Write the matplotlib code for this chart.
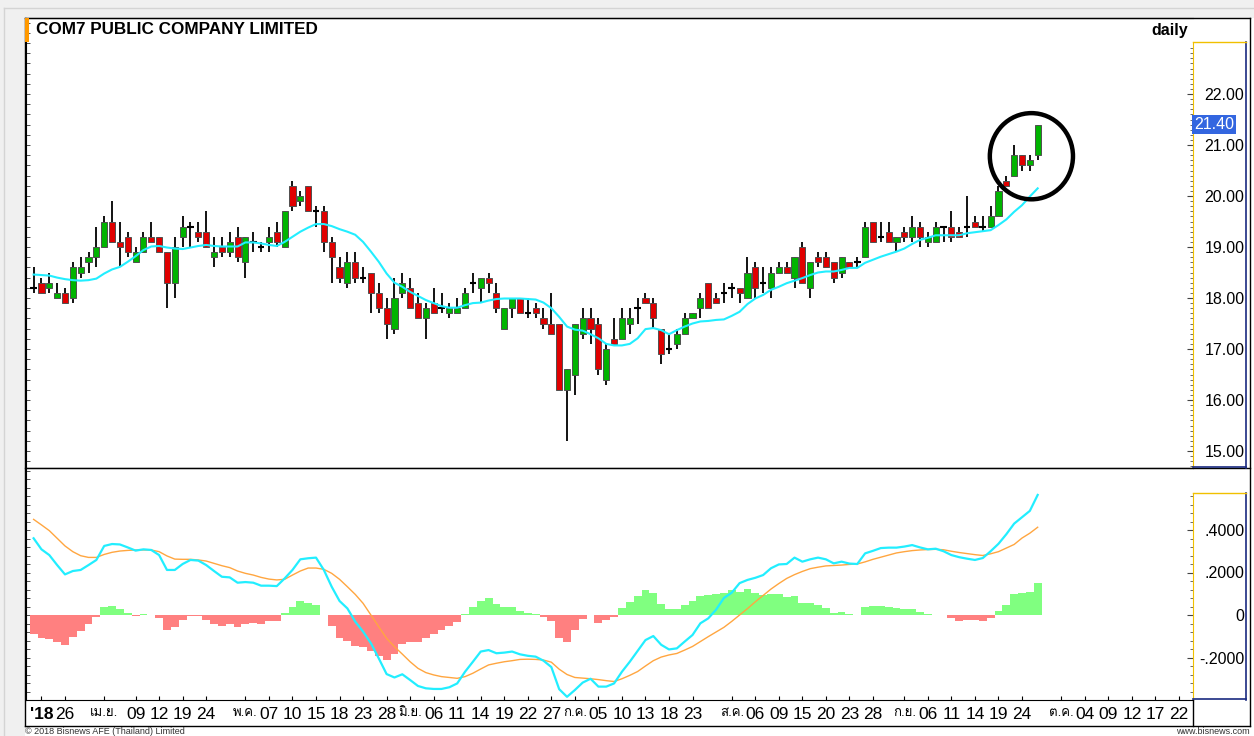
import numpy as np
import matplotlib
matplotlib.use("Agg")
import matplotlib.pyplot as plt
from matplotlib import font_manager, ft2font
from matplotlib.patches import Ellipse, Rectangle
from matplotlib.lines import Line2D
from matplotlib.transforms import blended_transform_factory

# daily OHLC, 20 Mar 2018 .. 26 Sep 2018 (one entry per trading day)
open_ = [18.2, 18.3, 18.2, 18.0, 18.1, 18.0, 18.5, 18.7, 18.8, 19.0,
         19.5, 19.1, 19.2, 18.7, 18.9, 19.2, 19.2, 18.9, 18.3, 19.2,
         19.4, 19.3, 19.3, 18.8, 19.0, 18.9, 19.2, 18.7, 19.1, 19.0,
         19.1, 19.3, 19.0, 20.2, 19.9, 20.2, 19.7, 19.7, 19.1, 18.6,
         18.3, 18.7, 18.4, 18.5, 18.1, 17.8, 17.4, 18.1, 18.2, 17.9,
         17.6, 17.9, 17.8, 17.7, 17.7, 17.8, 18.3, 18.2, 18.4, 18.1,
         17.4, 17.8, 18.0, 17.7, 17.8, 17.6, 17.5, 17.5, 16.2, 16.5,
         17.3, 17.6, 17.5, 16.4, 17.2, 17.2, 17.5, 17.8, 18.0, 17.9,
         17.4, 17.0, 17.1, 17.3, 17.6, 17.8, 18.3, 18.0, 18.1, 18.2,
         18.2, 18.0, 18.6, 18.3, 18.2, 18.5, 18.6, 18.4, 19.0, 18.2,
         18.8, 18.8, 18.7, 18.5, 18.7, 18.7, 18.8, 19.5, 19.2, 19.3,
         19.1, 19.3, 19.2, 19.4, 19.1, 19.1, 19.4, 19.4, 19.3, 19.4,
         19.5, 19.4, 19.4, 19.6, 20.3, 20.4, 20.8, 20.6, 20.8]
high = [18.6, 18.4, 18.5, 18.3, 18.2, 18.7, 18.8, 18.9, 19.4, 19.6,
        19.9, 19.5, 19.3, 19.0, 19.3, 19.5, 19.2, 18.9, 19.2, 19.6,
        19.5, 19.5, 19.7, 19.2, 19.2, 19.3, 19.4, 19.2, 19.3, 19.1,
        19.4, 19.5, 19.7, 20.3, 20.1, 20.2, 19.8, 19.8, 19.2, 18.8,
        18.9, 18.9, 18.6, 18.5, 18.3, 18.0, 18.4, 18.5, 18.4, 18.1,
        17.9, 18.2, 18.1, 17.9, 18.0, 18.2, 18.5, 18.4, 18.5, 18.3,
        17.8, 18.0, 18.0, 18.0, 17.9, 17.8, 18.1, 17.5, 16.6, 17.5,
        17.8, 17.8, 17.6, 17.1, 17.6, 17.8, 17.8, 18.0, 18.1, 18.0,
        17.4, 17.3, 17.4, 17.7, 17.7, 18.1, 18.3, 18.1, 18.3, 18.3,
        18.2, 18.8, 18.7, 18.6, 18.6, 18.7, 18.7, 18.8, 19.1, 18.7,
        18.9, 18.9, 18.7, 18.8, 18.7, 18.8, 19.5, 19.5, 19.5, 19.5,
        19.2, 19.4, 19.6, 19.5, 19.3, 19.5, 19.4, 19.7, 19.4, 20.0,
        19.6, 19.6, 19.8, 20.2, 20.4, 21.0, 20.8, 20.8, 21.4]
low = [18.1, 18.1, 18.1, 18.0, 17.9, 17.9, 18.4, 18.5, 18.6, 19.0,
       19.1, 18.6, 18.8, 18.7, 18.9, 19.1, 18.9, 17.8, 18.0, 19.0,
       19.0, 19.1, 19.0, 18.6, 18.8, 18.8, 18.7, 18.4, 18.9, 18.9,
       18.9, 19.0, 19.0, 19.7, 19.8, 19.7, 19.4, 18.9, 18.3, 18.3,
       18.2, 18.3, 18.3, 17.7, 17.7, 17.2, 17.3, 18.0, 17.8, 17.6,
       17.2, 17.7, 17.7, 17.6, 17.7, 17.8, 18.1, 17.9, 18.1, 17.7,
       17.4, 17.6, 17.7, 17.6, 17.6, 17.4, 17.3, 16.2, 15.2, 16.1,
       17.2, 17.1, 16.5, 16.3, 17.1, 17.2, 17.3, 17.5, 17.9, 17.4,
       16.7, 16.9, 17.0, 17.3, 17.6, 17.6, 17.8, 17.9, 17.9, 18.0,
       17.9, 18.0, 18.0, 18.1, 18.0, 18.5, 18.5, 18.2, 18.3, 18.0,
       18.6, 18.6, 18.3, 18.4, 18.6, 18.6, 18.8, 19.1, 19.1, 19.1,
       18.9, 19.1, 19.1, 19.0, 19.0, 19.1, 19.1, 19.1, 19.2, 19.2,
       19.4, 19.3, 19.4, 19.6, 20.2, 20.4, 20.5, 20.5, 20.7]
close = [18.2, 18.1, 18.3, 18.1, 17.9, 18.6, 18.6, 18.8, 19.0, 19.5,
         19.1, 19.0, 18.9, 18.9, 19.2, 19.1, 18.9, 18.3, 19.0, 19.4,
         19.4, 19.2, 19.0, 18.9, 18.9, 19.1, 18.8, 19.2, 19.1, 19.0,
         19.2, 19.1, 19.7, 19.8, 20.0, 19.7, 19.7, 19.1, 18.8, 18.4,
         18.7, 18.4, 18.4, 18.1, 17.8, 17.5, 18.0, 18.3, 17.8, 17.6,
         17.8, 17.7, 17.8, 17.8, 17.8, 18.1, 18.3, 18.4, 18.3, 17.8,
         17.8, 18.0, 17.7, 17.7, 17.7, 17.5, 17.3, 16.2, 16.6, 17.5,
         17.6, 17.4, 16.6, 17.0, 17.1, 17.6, 17.6, 17.8, 17.9, 17.6,
         16.9, 17.0, 17.3, 17.6, 17.7, 18.0, 17.8, 17.9, 18.1, 18.2,
         18.1, 18.5, 18.2, 18.3, 18.5, 18.6, 18.5, 18.8, 18.3, 18.7,
         18.7, 18.6, 18.4, 18.8, 18.6, 18.7, 19.4, 19.1, 19.2, 19.1,
         19.2, 19.2, 19.4, 19.2, 19.2, 19.4, 19.4, 19.2, 19.2, 19.4,
         19.4, 19.4, 19.6, 20.1, 20.2, 20.8, 20.6, 20.7, 21.4]

# moving average line (cyan)
ma = [18.46, 18.45, 18.44, 18.40, 18.37, 18.35, 18.34, 18.35, 18.38, 18.48,
      18.56, 18.61, 18.71, 18.82, 18.94, 19.01, 19.02, 18.99, 18.97, 18.96,
      18.99, 19.02, 19.04, 19.02, 19.01, 19.01, 19.01, 19.09, 19.09, 19.07,
      19.04, 19.02, 19.10, 19.20, 19.30, 19.38, 19.45, 19.45, 19.41, 19.35,
      19.30, 19.24, 19.10, 18.91, 18.71, 18.48, 18.30, 18.22, 18.12, 18.04,
      17.96, 17.90, 17.84, 17.81, 17.81, 17.86, 17.90, 17.91, 17.95, 17.98,
      17.99, 17.99, 17.99, 17.98, 17.97, 17.91, 17.80, 17.63, 17.44, 17.38,
      17.36, 17.29, 17.21, 17.10, 17.07, 17.07, 17.10, 17.21, 17.39, 17.41,
      17.37, 17.29, 17.37, 17.44, 17.50, 17.54, 17.55, 17.57, 17.58, 17.65,
      17.73, 17.88, 17.99, 18.06, 18.16, 18.22, 18.29, 18.34, 18.39, 18.45,
      18.50, 18.52, 18.52, 18.55, 18.59, 18.59, 18.69, 18.75, 18.81, 18.86,
      18.91, 18.97, 19.06, 19.14, 19.18, 19.23, 19.23, 19.23, 19.23, 19.27,
      19.29, 19.31, 19.33, 19.43, 19.54, 19.69, 19.82, 19.99, 20.15]

# MACD panel
macd = [0.361, 0.309, 0.282, 0.235, 0.191, 0.207, 0.212, 0.235, 0.259, 0.325,
        0.334, 0.332, 0.318, 0.303, 0.309, 0.306, 0.282, 0.212, 0.212, 0.240,
        0.259, 0.256, 0.235, 0.207, 0.180, 0.177, 0.152, 0.155, 0.152, 0.138,
        0.138, 0.136, 0.172, 0.212, 0.262, 0.267, 0.270, 0.212, 0.133, 0.066,
        0.031, -0.031, -0.078, -0.133, -0.204, -0.278, -0.294, -0.279, -0.306, -0.334,
        -0.345, -0.348, -0.348, -0.340, -0.322, -0.267, -0.220, -0.172, -0.165, -0.180,
        -0.177, -0.172, -0.185, -0.192, -0.196, -0.215, -0.245, -0.349, -0.385, -0.353,
        -0.318, -0.300, -0.337, -0.337, -0.322, -0.267, -0.220, -0.169, -0.118, -0.099,
        -0.140, -0.162, -0.157, -0.125, -0.094, -0.039, -0.016, 0.025, 0.080, 0.105,
        0.150, 0.165, 0.175, 0.188, 0.220, 0.238, 0.240, 0.270, 0.251, 0.262,
        0.270, 0.262, 0.243, 0.251, 0.242, 0.240, 0.290, 0.302, 0.315, 0.317,
        0.317, 0.322, 0.329, 0.318, 0.309, 0.312, 0.300, 0.282, 0.272, 0.265,
        0.259, 0.268, 0.300, 0.335, 0.380, 0.430, 0.460, 0.490, 0.565]
signal = [0.450, 0.424, 0.397, 0.361, 0.325, 0.298, 0.279, 0.271, 0.271, 0.285,
          0.295, 0.301, 0.304, 0.306, 0.306, 0.306, 0.298, 0.278, 0.263, 0.262,
          0.262, 0.259, 0.254, 0.243, 0.232, 0.223, 0.207, 0.196, 0.188, 0.177,
          0.169, 0.165, 0.168, 0.188, 0.207, 0.221, 0.221, 0.215, 0.196, 0.168,
          0.133, 0.097, 0.055, 0.000, -0.055, -0.110, -0.149, -0.184, -0.220, -0.251,
          -0.271, -0.282, -0.290, -0.294, -0.298, -0.290, -0.274, -0.254, -0.235, -0.227,
          -0.220, -0.215, -0.209, -0.208, -0.209, -0.212, -0.222, -0.255, -0.280, -0.294,
          -0.297, -0.300, -0.304, -0.309, -0.313, -0.300, -0.284, -0.266, -0.240, -0.215,
          -0.198, -0.188, -0.181, -0.165, -0.148, -0.125, -0.102, -0.080, -0.058, -0.030,
          0.000, 0.030, 0.062, 0.092, 0.122, 0.148, 0.172, 0.190, 0.205, 0.218,
          0.225, 0.231, 0.233, 0.235, 0.238, 0.240, 0.250, 0.262, 0.272, 0.282,
          0.292, 0.298, 0.303, 0.306, 0.308, 0.309, 0.307, 0.300, 0.294, 0.289,
          0.284, 0.280, 0.288, 0.298, 0.315, 0.332, 0.362, 0.385, 0.413]
hist = [-0.089, -0.110, -0.114, -0.125, -0.141, -0.102, -0.074, -0.044, -0.011, 0.036,
        0.042, 0.030, 0.008, -0.003, 0.005, 0.000, -0.016, -0.071, -0.058, -0.024,
        -0.003, -0.003, -0.024, -0.042, -0.052, -0.044, -0.058, -0.044, -0.036, -0.042,
        -0.028, -0.028, 0.011, 0.036, 0.066, 0.058, 0.047, 0.000, -0.050, -0.110,
        -0.122, -0.146, -0.152, -0.169, -0.191, -0.212, -0.184, -0.136, -0.129, -0.129,
        -0.107, -0.091, -0.071, -0.052, -0.031, 0.005, 0.039, 0.068, 0.082, 0.052,
        0.036, 0.036, 0.020, 0.008, 0.003, -0.008, -0.028, -0.110, -0.125, -0.071,
        -0.020, 0.000, -0.036, -0.024, -0.011, 0.031, 0.060, 0.089, 0.118, 0.105,
        0.050, 0.027, 0.027, 0.047, 0.066, 0.091, 0.094, 0.097, 0.105, 0.118,
        0.110, 0.122, 0.105, 0.094, 0.097, 0.097, 0.083, 0.089, 0.055, 0.055,
        0.047, 0.031, 0.008, 0.013, 0.003, 0.000, 0.039, 0.042, 0.042, 0.036,
        0.031, 0.027, 0.028, 0.013, 0.003, 0.002, 0.002, -0.016, -0.027, -0.024,
        -0.024, -0.027, -0.016, 0.020, 0.047, 0.097, 0.105, 0.110, 0.149]

# date axis: trading-day slot of each label
tick_pos = [1, 4, 9, 13, 16, 19, 22, 27, 30, 33, 36, 39, 42, 45, 48, 51, 54, 57,
            60, 63, 66, 69, 72, 75, 78, 81, 84, 89, 92, 95, 98, 101, 104, 107,
            111, 114, 117, 120, 123, 126, 131, 134, 137, 140, 143, 146]
tick_labels = ["'18", "26", "เม.ย.", "09", "12", "19", "24",
               "พ.ค.", "07", "10", "15", "18", "23", "28",
               "มิ.ย.", "06", "11", "14", "19", "22", "27",
               "ก.ค.", "05", "10", "13", "18", "23",
               "ส.ค.", "06", "09", "15", "20", "23", "28",
               "ก.ย.", "06", "11", "14", "19", "24",
               "ต.ค.", "04", "09", "12", "17", "22"]
price_ticks = [15, 16, 17, 18, 19, 20, 21, 22]
macd_ticks = [-0.2, 0.0, 0.2, 0.4]
macd_tick_labels = ["-.2000", "0", ".2000", ".4000"]
last_price = 21.40

# find a font that has Thai glyphs
thai_font = None
for f in font_manager.fontManager.ttflist:
    try:
        if 0x0E40 in ft2font.FT2Font(f.fname).get_charmap():
            thai_font = f.name
            break
    except Exception:
        pass
fams = ["Liberation Sans"] + ([thai_font] if thai_font else []) + ["DejaVu Sans"]
plt.rcParams["font.family"] = fams

W, H = 1254, 736
fig = plt.figure(figsize=(W / 100, H / 100), dpi=100, facecolor="#f0f0f0")


def px_line(x0, y0, x1, y1, color="black", lw=1.0):
    fig.add_artist(Line2D([x0 / W, x1 / W], [1 - y0 / H, 1 - y1 / H],
                          transform=fig.transFigure, color=color, lw=lw, zorder=20))


fig.add_artist(Rectangle((25 / W, 0), 1, 1 - 18 / H, transform=fig.transFigure,
                         facecolor="white", edgecolor="none", zorder=-10))
px_line(4, 8, 1254, 8, color="#d4d4d4")
px_line(4, 8, 4, 736, color="#d4d4d4")

ax1 = fig.add_axes([26 / W, 1 - 468 / H, (1193 - 26) / W, (468 - 18) / H])
ax2 = fig.add_axes([26 / W, 1 - 700 / H, (1193 - 26) / W, (700 - 468) / H])

idx = np.arange(len(close))
o = np.array(open_)
c = np.array(close)
xmin, xmax = -0.97, 147.8

# candles
ax1.vlines(idx, low, high, color="black", lw=1.3, zorder=2)
up = c > o
dn = c < o
doji = ~(up | dn)
body_col = np.where(up, "#00b400", "#e00000")
mask = up | dn
ax1.bar(idx[mask], np.abs(c - o)[mask], bottom=np.minimum(o, c)[mask], width=0.78,
        color=body_col[mask], edgecolor="#505050", lw=0.7, zorder=3)
ax1.hlines(o[doji], idx[doji] - 0.42, idx[doji] + 0.42, color="black", lw=1.5, zorder=3)
ax1.plot(idx, ma, color="#22eeff", lw=1.5, zorder=4)

# highlight circle round the last candles
ax1.add_patch(Ellipse((127.2, 20.78), 10.6, 1.69, fill=False, edgecolor="black", lw=3.2, zorder=6))

ax1.set_xlim(xmin, xmax)
ax1.set_ylim(22 - 374 / 51, 22 + 76 / 51)
ax1.set_xticks([])
ax1.yaxis.tick_right()
ax1.set_yticks(price_ticks)
ax1.set_yticklabels(["%.2f" % v for v in price_ticks])
ax1.set_yticks(np.arange(14.7, 23.0, 0.1), minor=True)
ax1.tick_params(axis="y", which="major", direction="in", length=4, width=0.8,
                color="#444444", labelsize=11.5, pad=37)
ax1.tick_params(axis="y", which="minor", direction="in", length=2, width=0.6, color="#555555")
for lab in ax1.get_yticklabels():
    lab.set_ha("right")
ax1.spines["right"].set_color("#f0c000")
ax1.spines["right"].set_bounds(22 - 374 / 51, 22 + 52 / 51)
ax1.spines["left"].set_visible(False)

tr = blended_transform_factory(ax1.transAxes, ax1.transData)
ax1.text(1.001, last_price, "%.2f" % last_price, transform=tr, color="white",
         fontsize=11.5, va="center", ha="left", zorder=10,
         bbox=dict(boxstyle="square,pad=0.12", facecolor="#3366e0", edgecolor="none"))

# MACD
hcol = ["#80ff80" if v >= 0 else "#ff8080" for v in hist]
ax2.bar(idx, hist, width=1.0, color=hcol, edgecolor="none", zorder=2)
ax2.plot(idx, signal, color="#ffa640", lw=1.0, zorder=3)
ax2.plot(idx, macd, color="#22eeff", lw=1.6, zorder=4)
ax2.set_xlim(xmin, xmax)
ax2.set_ylim(-0.40, 147 / 212.5)
ax2.yaxis.tick_right()
ax2.set_yticks(macd_ticks)
ax2.set_yticklabels(macd_tick_labels)
ax2.set_yticks(np.arange(-0.4, 0.58, 0.04), minor=True)
ax2.tick_params(axis="y", which="major", direction="in", length=4, width=0.8, color="#444444",
                labelsize=11.5, pad=37)
ax2.tick_params(axis="y", which="minor", direction="in", length=2, width=0.6, color="#555555")
for lab in ax2.get_yticklabels():
    lab.set_ha("right")
ax2.spines["right"].set_color("#f0c000")
ax2.spines["right"].set_bounds(-0.40, 122 / 212.5)
ax2.spines["left"].set_visible(False)

ax2.set_xticks(tick_pos)
ax2.set_xticklabels(tick_labels)
ax2.tick_params(axis="x", direction="in", length=3, pad=5, labelsize=12.5)
for lab in ax2.get_xticklabels():
    if lab.get_text().startswith("'"):
        lab.set_fontweight("bold")
    elif not lab.get_text().isdigit():
        lab.set_fontsize(9.5)

# left edge ticks
for ax in (ax1, ax2):
    sec = ax.secondary_yaxis("left")
    sec.set_yticks(np.arange(-1, 24, 0.2) if ax is ax1 else np.arange(-0.4, 0.7, 0.04))
    sec.set_yticklabels([])
    sec.tick_params(direction="in", length=3, width=0.6, color="#333333")

# frame lines
px_line(25, 18, 1250, 18)
px_line(25, 18, 25, 726)
px_line(1250, 18, 1250, 726)
px_line(25, 468, 1250, 468)
px_line(25, 726, 1250, 726)
px_line(1193, 700, 1193, 726)
px_line(1246, 42, 1246, 468, color="#1a2a80", lw=1.2)
px_line(1193, 467, 1246, 467, color="#1a2a80", lw=1.2)
px_line(1193, 42, 1246, 42, color="#f0c000", lw=1.0)
px_line(1246, 493, 1246, 700, color="#1a2a80", lw=1.2)
px_line(1193, 699, 1246, 699, color="#1a2a80", lw=1.2)
px_line(1193, 493, 1246, 493, color="#f0c000", lw=1.0)
fig.add_artist(Rectangle((25 / W, 1 - 42 / H), 4 / W, 24 / H, transform=fig.transFigure,
                         facecolor="#ff9900", edgecolor="none", zorder=21))

fig.text(36 / W, 1 - 30 / H, "COM7 PUBLIC COMPANY LIMITED", fontsize=12.3,
         fontweight="bold", va="center", ha="left")
fig.text(1188 / W, 1 - 30 / H, "daily", fontsize=11.5, fontweight="bold",
         va="center", ha="right")
fig.text(25 / W, 1 - 731 / H, "© 2018 Bisnews AFE (Thailand) Limited", fontsize=6.5,
         va="center", ha="left", color="#333333")
fig.text(1250 / W, 1 - 731 / H, "www.bisnews.com", fontsize=6.5,
         va="center", ha="right", color="#333333")

fig.savefig("out.png", dpi=100, facecolor=fig.get_facecolor())
